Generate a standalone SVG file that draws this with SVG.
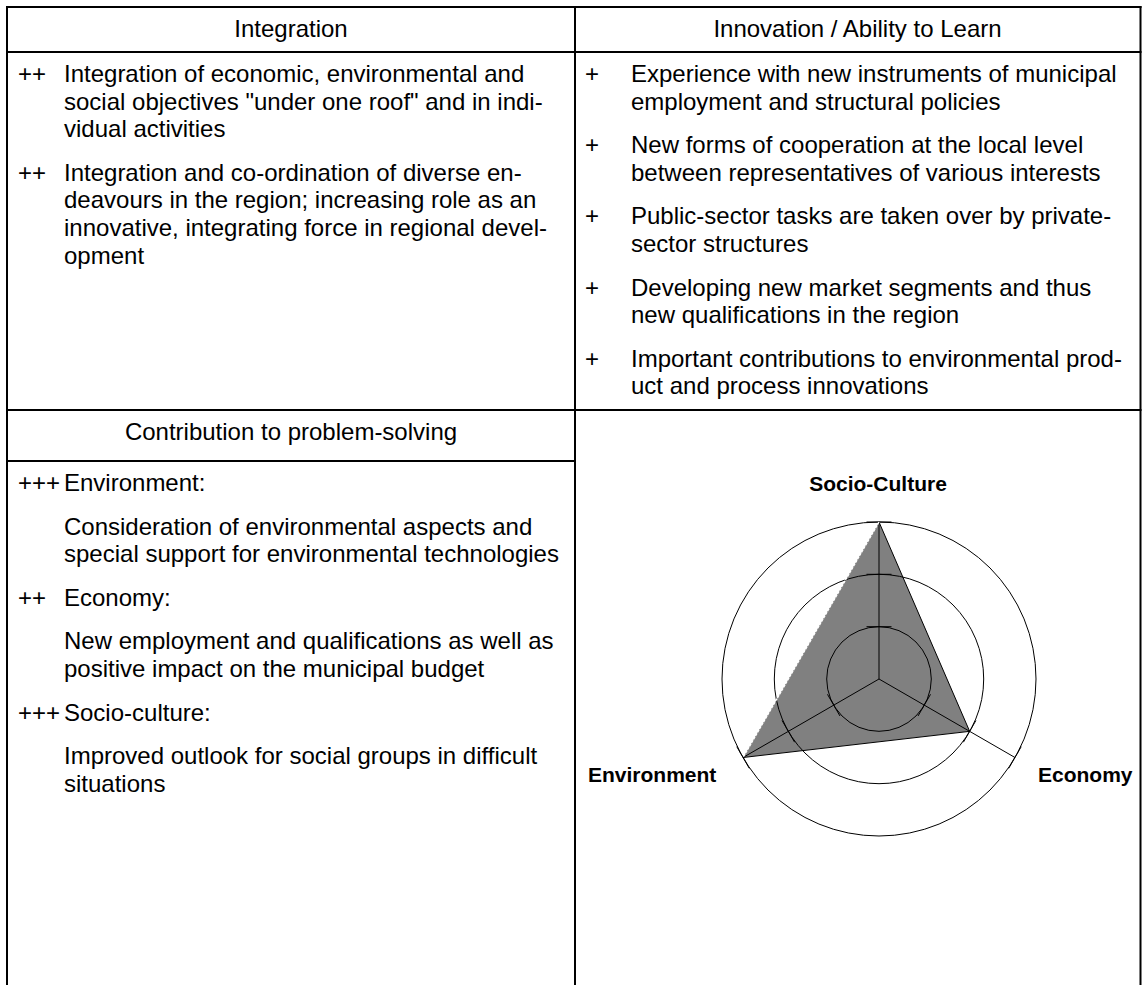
<svg xmlns="http://www.w3.org/2000/svg" width="1142" height="985" viewBox="0 0 1142 985">
<style>
.t{font-family:"Liberation Sans",Arial,sans-serif;font-size:24px;fill:#000}
.c{text-anchor:middle}
.b{font-family:"Liberation Sans",Arial,sans-serif;font-size:21px;font-weight:bold;fill:#000}
.grid{fill:none;stroke:#000;stroke-width:2}
.ax{fill:none;stroke:#000;stroke-width:1}
</style>
<rect width="1142" height="985" fill="#fff"/>
<g id="table" class="grid">
<line x1="6" y1="7" x2="1141.5" y2="7"/>
<line x1="7" y1="6" x2="7" y2="985"/>
<line x1="575" y1="6" x2="575" y2="985"/>
<line x1="1140.5" y1="6" x2="1140.5" y2="985"/>
<line x1="6" y1="52" x2="1141.5" y2="52"/>
<line x1="6" y1="410" x2="1141.5" y2="410"/>
<line x1="6" y1="461" x2="575" y2="461"/>
</g>
<g id="integration">
<text class="t c" x="291" y="37">Integration</text>
<text class="t" x="18" y="82">++</text>
<text class="t" x="64" y="82">Integration of economic, environmental and</text>
<text class="t" x="64" y="109.6">social objectives "under one roof" and in indi-</text>
<text class="t" x="64" y="137.2">vidual activities</text>
<text class="t" x="18" y="180.8">++</text>
<text class="t" x="64" y="180.8">Integration and co-ordination of diverse en-</text>
<text class="t" x="64" y="208.4">deavours in the region; increasing role as an</text>
<text class="t" x="64" y="236">innovative, integrating force in regional devel-</text>
<text class="t" x="64" y="263.6">opment</text>
</g>
<g id="innovation">
<text class="t c" x="857.5" y="37">Innovation / Ability to Learn</text>
<text class="t" x="585" y="82">+</text>
<text class="t" x="631" y="82">Experience with new instruments of municipal</text>
<text class="t" x="631" y="109.6">employment and structural policies</text>
<text class="t" x="585" y="153.2">+</text>
<text class="t" x="631" y="153.2">New forms of cooperation at the local level</text>
<text class="t" x="631" y="180.8">between representatives of various interests</text>
<text class="t" x="585" y="224.4">+</text>
<text class="t" x="631" y="224.4">Public-sector tasks are taken over by private-</text>
<text class="t" x="631" y="252">sector structures</text>
<text class="t" x="585" y="295.6">+</text>
<text class="t" x="631" y="295.6">Developing new market segments and thus</text>
<text class="t" x="631" y="323.2">new qualifications in the region</text>
<text class="t" x="585" y="366.8">+</text>
<text class="t" x="631" y="366.8">Important contributions to environmental prod-</text>
<text class="t" x="631" y="394.4">uct and process innovations</text>
</g>
<g id="contribution">
<text class="t c" x="291" y="440">Contribution to problem-solving</text>
<text class="t" x="18" y="491">+++</text>
<text class="t" x="64" y="491">Environment:</text>
<text class="t" x="64" y="534.6">Consideration of environmental aspects and</text>
<text class="t" x="64" y="562.2">special support for environmental technologies</text>
<text class="t" x="18" y="605.8">++</text>
<text class="t" x="64" y="605.8">Economy:</text>
<text class="t" x="64" y="649.4">New employment and qualifications as well as</text>
<text class="t" x="64" y="677">positive impact on the municipal budget</text>
<text class="t" x="18" y="720.6">+++</text>
<text class="t" x="64" y="720.6">Socio-culture:</text>
<text class="t" x="64" y="764.2">Improved outlook for social groups in difficult</text>
<text class="t" x="64" y="791.8">situations</text>
</g>
<g id="radar">
<polygon points="879,522 969.67,731.35 743.03,757.5" fill="#808080" stroke="none"/>
<g class="ax">
<circle cx="879" cy="679" r="52.3"/>
<circle cx="879" cy="679" r="104.7"/>
<circle cx="879" cy="679" r="157"/>
<line x1="879" y1="679" x2="879" y2="522"/>
<line x1="879" y1="679" x2="1014.97" y2="757.5"/>
<line x1="879" y1="679" x2="743.03" y2="757.5"/>
<line x1="866.5" y1="626.7" x2="891.5" y2="626.7"/>
<line x1="866.5" y1="574.3" x2="891.5" y2="574.3"/>
<line x1="866.5" y1="522" x2="891.5" y2="522"/>
<line x1="930.54" y1="694.32" x2="918.04" y2="715.98"/>
<line x1="975.92" y1="720.52" x2="963.42" y2="742.18"/>
<line x1="1021.22" y1="746.67" x2="1008.72" y2="768.33"/>
<line x1="827.46" y1="694.32" x2="839.96" y2="715.98"/>
<line x1="782.08" y1="720.52" x2="794.58" y2="742.18"/>
<line x1="736.78" y1="746.67" x2="749.28" y2="768.33"/>
<line x1="879" y1="522" x2="969.67" y2="731.35"/>
<line x1="969.67" y1="731.35" x2="743.03" y2="757.5"/>
</g>
<line x1="879" y1="522" x2="743.03" y2="757.5" stroke="#fff" stroke-width="1.4" stroke-dasharray="3 1"/>
<text class="b c" x="878" y="491">Socio-Culture</text>
<text class="b" x="588" y="782">Environment</text>
<text class="b" x="1038" y="782">Economy</text>
</g>
</svg>
